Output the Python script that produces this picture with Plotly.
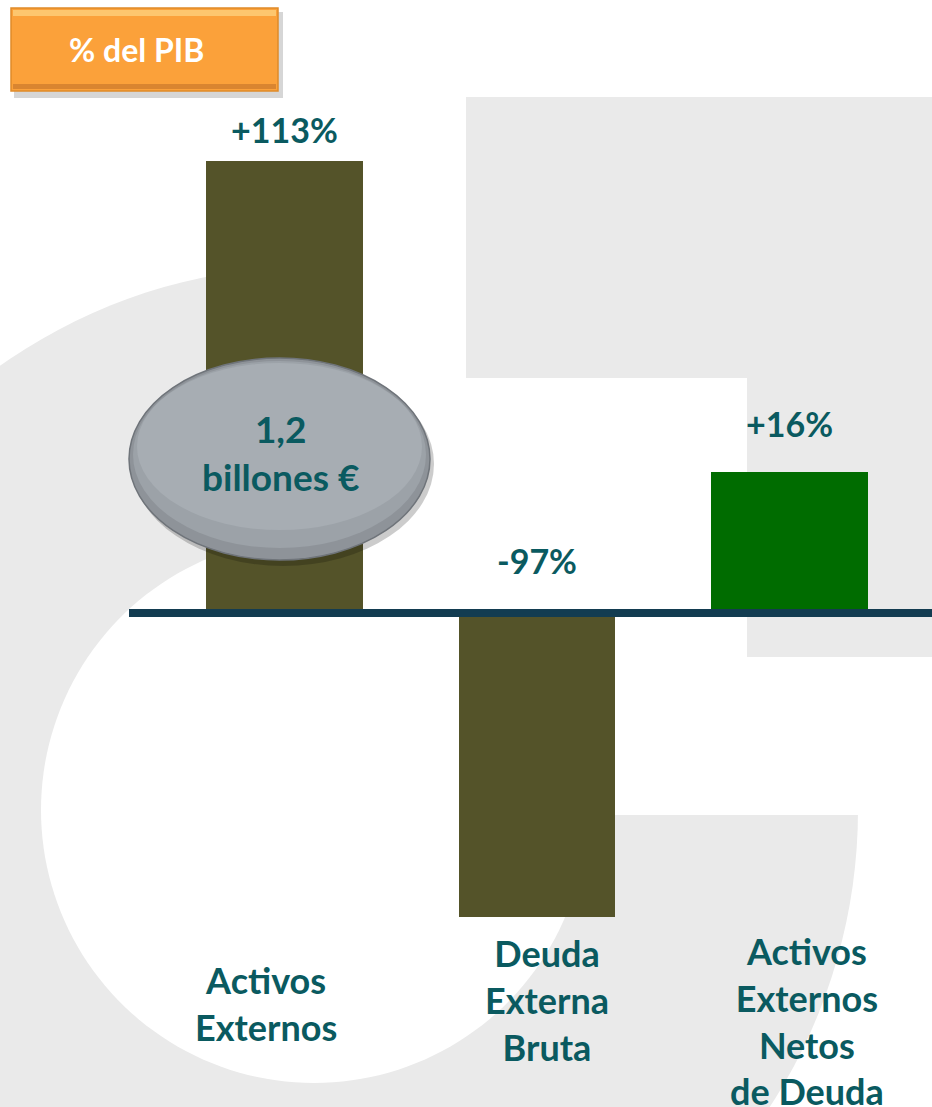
import numpy as np
import plotly.graph_objects as go

# ---------------- data ----------------
categories = ["Activos Externos", "Deuda Externa Bruta", "Activos Externos Netos de Deuda"]
category_labels = ["Activos<br>Externos", "Deuda<br>Externa<br>Bruta", "Activos<br>Externos<br>Netos<br>de Deuda"]
pct_values = [113, -97, 16]                 # values printed on the chart (% del PIB)
pct_labels = ["+113%", "-97%", "+16%"]
bar_heights = [113, -76, 35.25]             # heights as drawn in the picture (not to scale)
bar_colors = ["#545329", "#545329", "#006C00"]
bubble_text = "1,2<br>billones €"
box_text = "% del PIB"

W, H = 932, 1107
TEXT = "#0A5A60"
FONT = "Lato"

def px(x):
    return x / W

def py(y):
    return 1 - y / H

fig = go.Figure()
fig.add_trace(go.Bar(
    x=categories, y=bar_heights, width=0.618,
    marker=dict(color=bar_colors, line=dict(width=0)),
    hoverinfo="skip", showlegend=False,
))

shapes = []
GRAY = "#EAEAEA"

def poly_path(points):
    return "M " + " L ".join(f"{px(a):.5f},{py(b):.5f}" for a, b in points) + " Z"

def circle_pts(cx, cy, r, n=180):
    t = np.linspace(0, 2 * np.pi, n, endpoint=False)
    return list(zip(cx + r * np.cos(t), cy + r * np.sin(t)))

# background logo
shapes.append(dict(type="path", xref="paper", yref="paper", layer="below",
                   path=poly_path(circle_pts(314, 810, 544)), fillcolor=GRAY, line=dict(width=0)))
shapes.append(dict(type="path", xref="paper", yref="paper", layer="below",
                   path=poly_path(circle_pts(314, 810, 273)), fillcolor="white", line=dict(width=0)))
shapes.append(dict(type="rect", xref="paper", yref="paper", layer="below",
                   x0=px(300), x1=1, y0=py(815), y1=1, fillcolor="white", line=dict(width=0)))
shapes.append(dict(type="rect", xref="paper", yref="paper", layer="below",
                   x0=px(466), x1=1, y0=py(378), y1=py(97), fillcolor=GRAY, line=dict(width=0)))
shapes.append(dict(type="rect", xref="paper", yref="paper", layer="below",
                   x0=px(747), x1=1, y0=py(657), y1=py(378), fillcolor=GRAY, line=dict(width=0)))

# zero line
shapes.append(dict(type="line", xref="paper", yref="y", x0=px(129), x1=1, y0=0, y1=0,
                   line=dict(color="#133C51", width=8), layer="above"))

# orange box with shadow
shapes.append(dict(type="rect", xref="paper", yref="paper", x0=px(14), x1=px(283), y0=py(98), y1=py(12),
                   fillcolor="rgba(0,0,0,0.16)", line=dict(width=0), layer="above"))
shapes.append(dict(type="rect", xref="paper", yref="paper", x0=px(11), x1=px(278), y0=py(91), y1=py(8),
                   fillcolor="#FBA13A", line=dict(color="#E08A28", width=1.5), layer="above"))
shapes.append(dict(type="rect", xref="paper", yref="paper", x0=px(13), x1=px(276), y0=py(16), y1=py(10),
                   fillcolor="#FDC66E", line=dict(width=0), layer="above"))
shapes.append(dict(type="rect", xref="paper", yref="paper", x0=px(13), x1=px(276), y0=py(89), y1=py(84),
                   fillcolor="#D98530", line=dict(width=0), layer="above"))

# bubble with shadow and soft shading
shapes.append(dict(type="circle", xref="paper", yref="paper", x0=px(132), x1=px(434), y0=py(566), y1=py(362),
                   fillcolor="rgba(0,0,0,0.2)", line=dict(width=0), layer="above"))
shapes.append(dict(type="circle", xref="paper", yref="paper", x0=px(129), x1=px(430), y0=py(560), y1=py(358),
                   fillcolor="#8E9399", line=dict(color="#6F747A", width=1.5), layer="above"))
shapes.append(dict(type="circle", xref="paper", yref="paper", x0=px(133), x1=px(426), y0=py(548), y1=py(361),
                   fillcolor="#9CA2A8", line=dict(width=0), layer="above"))
shapes.append(dict(type="circle", xref="paper", yref="paper", x0=px(137), x1=px(422), y0=py(530), y1=py(363),
                   fillcolor="#A7ADB3", line=dict(width=0), layer="above"))

annotations = []
# value labels
label_offsets_px = [32, 53, 49]
for c, h, t, off in zip(categories, bar_heights, pct_labels, label_offsets_px):
    annotations.append(dict(x=c, y=max(h, 0), xref="x", yref="y", text=f"<b>{t}</b>",
                            showarrow=False, xanchor="center", yanchor="middle", yshift=off,
                            font=dict(family=FONT, size=34, color=TEXT)))
# category labels
cat_xshift = [-18, 10, 18]
cat_center_y = [1003, 1000, 1021]
for c, t, xs, yc in zip(categories, category_labels, cat_xshift, cat_center_y):
    annotations.append(dict(x=c, y=py(yc), xref="x", yref="paper", text=f"<b>{t}</b>",
                            showarrow=False, xshift=xs, xanchor="center", yanchor="middle",
                            font=dict(family=FONT, size=36, color=TEXT)))
# bubble text
annotations.append(dict(x=px(280), y=py(452), xref="paper", yref="paper", text=f"<b>{bubble_text}</b>",
                        showarrow=False, xanchor="center", yanchor="middle",
                        font=dict(family=FONT, size=37, color=TEXT)))
# box text
annotations.append(dict(x=px(136), y=py(50), xref="paper", yref="paper", text=f"<b>{box_text}</b>",
                        showarrow=False, xanchor="center", yanchor="middle",
                        font=dict(family=FONT, size=32, color="white")))

fig.update_layout(
    width=W, height=H,
    margin=dict(l=0, r=0, t=0, b=0),
    paper_bgcolor="white", plot_bgcolor="rgba(0,0,0,0)",
    xaxis=dict(visible=False, range=[-1.1267, 2.5644]),
    yaxis=dict(visible=False, range=[-123.5, 153.25]),
    shapes=shapes, annotations=annotations,
    bargap=0,
)

fig.write_html("out.html", config={"displayModeBar": False},
               post_script="document.body.style.margin='0';document.body.style.overflow='hidden';")
